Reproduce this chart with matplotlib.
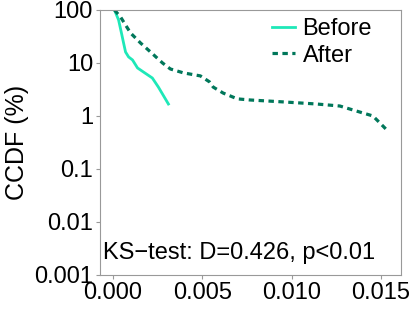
import matplotlib
matplotlib.use('Agg')
import matplotlib.pyplot as plt

plt.rcParams['font.family'] = ['Liberation Sans', 'DejaVu Sans']

# CCDF curves (x value, CCDF in %)
before_x = [0.00008, 0.00031, 0.00047, 0.00059, 0.00070, 0.00087, 0.00109,
            0.00137, 0.0017, 0.0022, 0.00254, 0.0031]
before_y = [100, 64.8, 36.8, 23.8, 16.1, 13.0, 11.4, 8.05, 6.76, 5.2, 3.5, 1.68]

after_x = [0.00008, 0.00042, 0.00098, 0.00154, 0.0021, 0.00277, 0.00321,
           0.00394, 0.00489, 0.0054, 0.00561, 0.00617, 0.00696, 0.00768,
           0.00953, 0.0114, 0.0127, 0.0138, 0.01455, 0.01494, 0.01534]
after_y = [100, 73.8, 36.8, 23.8, 16.1, 10.0, 7.7, 6.5, 5.7, 4.4, 3.5, 2.7,
           2.1, 2.0, 1.84, 1.68, 1.54, 1.19, 1.0, 0.74, 0.54]

xticks = [0.000, 0.005, 0.010, 0.015]
xticklabels = ['0.000', '0.005', '0.010', '0.015']
yticks = [0.001, 0.01, 0.1, 1, 10, 100]
yticklabels = ['0.001', '0.01', '0.1', '1', '10', '100']

fig = plt.figure(figsize=(4.15, 3.12), dpi=100)
ax = fig.add_axes([0.241, 0.119, 0.725, 0.849])

ax.plot(before_x, before_y, color='#1ee8b8', lw=2, label='Before')
ax.plot(after_x, after_y, color='#00775a', lw=2.3, ls=(0, (1.7, 1.4)), label='After')

ax.set_yscale('log')
ax.set_ylim(0.001, 100)
ax.set_xlim(-0.00073, 0.01612)
ax.set_xticks(xticks)
ax.set_xticklabels(xticklabels)
ax.set_yticks(yticks)
ax.set_yticklabels(yticklabels)
ax.minorticks_off()
ax.tick_params(labelsize=17, length=3, color='#999999', pad=2)
for s in ax.spines.values():
    s.set_color('#999999')

ax.set_ylabel('CCDF (%)', fontsize=18, labelpad=4)
ax.text(0.01, 0.06, 'KS\u2212test: D=0.426, p<0.01', transform=ax.transAxes, fontsize=17)
ax.legend(loc='upper left', frameon=False, fontsize=17, handlelength=1.0,
          handletextpad=0.3, labelspacing=0.2, borderpad=0, borderaxespad=0,
          bbox_to_anchor=(0.571, 0.97))

fig.savefig('out.png', dpi=100)
